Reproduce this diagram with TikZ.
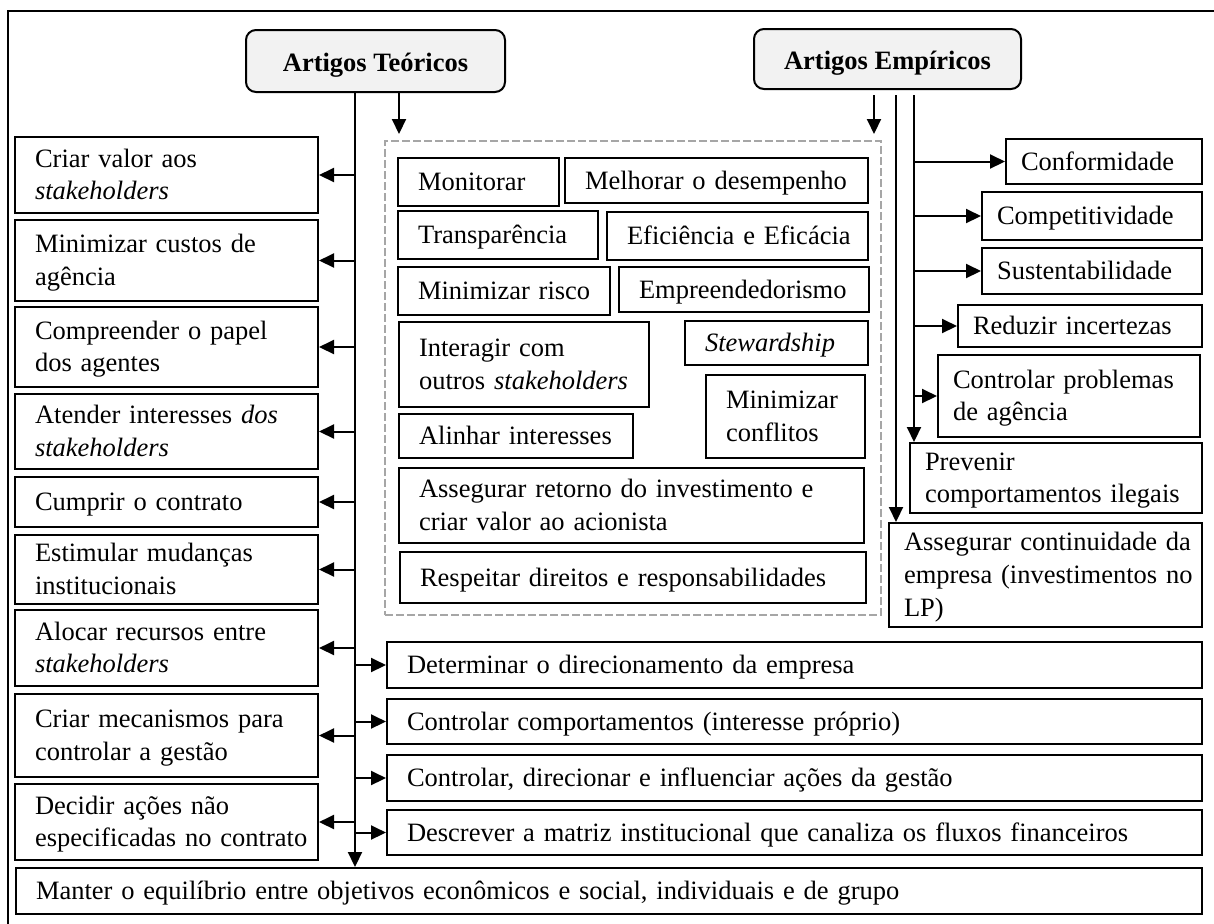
\documentclass[tikz,border=0pt]{standalone}
\usepackage{fontspec}
\setmainfont{Liberation Serif}
\usetikzlibrary{arrows.meta}
\newcommand{\boxfont}{\fontsize{13.25pt}{16.3pt}\selectfont}
\newcommand{\boxstrut}{\rule[-3.9pt]{0pt}{16.3pt}}
\tikzset{
  box/.style={draw, fill=white, inner xsep=0pt, inner ysep=0pt, align=left,
    anchor=north west, execute at begin node={\leftskip=#1\relax\boxstrut},
    execute at end node={\boxstrut}},
  box/.default=10pt,
  rbox/.style={box=7.5pt},
  head/.style={draw, fill=black!5, rounded corners=5pt, inner sep=0pt,
    text height=13pt, text depth=3pt, anchor=north west, font=\boxfont\bfseries},
  group/.style={draw=black!35, dash pattern=on 4pt off 1.5pt, inner sep=0pt,
    anchor=north west},
}
\begin{document}
\begin{tikzpicture}[x=0.5pt, y=-0.5pt, line width=1pt,
    >={Triangle[length=7.5pt,width=7pt]}, every node/.style={font=\boxfont}]
      \useasboundingbox (0,0) rectangle (1214,923);
      \draw (8,930) -- (8,11) -- (1220,11);
      \node[head, minimum width=129.5pt, minimum height=31pt] (teo) at (245,29) {Artigos Teóricos};
      \node[head, minimum width=133.5pt, minimum height=30pt] (emp) at (753,28) {Artigos Empíricos};
      \node[group, minimum width=248pt, minimum height=237pt] (cen) at (384,140) {};
      \node[box, text width=80.5pt, minimum height=24pt] (mon) at (397,157) {Monitorar};
      \node[box, text width=151.5pt, minimum height=22.5pt] (mel) at (564,157) {Melhorar o desempenho};
      \node[box, text width=100pt, minimum height=24pt] (tra) at (397,210) {Transparência};
      \node[box, text width=130.5pt, minimum height=24pt] (efi) at (606,211) {Eficiência e Eficácia};
      \node[box, text width=106pt, minimum height=24pt] (mri) at (397,266) {Minimizar risco};
      \node[box, text width=125pt, minimum height=22.5pt] (epr) at (618,266) {Empreendedorismo};
      \node[box, text width=125pt, minimum height=42.5pt] (iso) at (398,321) {Interagir com\\outros \textit{stakeholders}};
      \node[box, text width=91.5pt, minimum height=22pt] (ste) at (684,320) {\textit{Stewardship}};
      \node[box, text width=79.5pt, minimum height=41.5pt] (mco) at (705,374) {Minimizar\\conflitos};
      \node[box, text width=117pt, minimum height=22pt] (ali) at (398,413) {Alinhar interesses};
      \node[box, text width=232.5pt, minimum height=37.5pt] (asr) at (398,467) {Assegurar retorno do investimento e\\criar valor ao acionista};
      \node[box, text width=233pt, minimum height=25.5pt] (rdr) at (399,551) {Respeitar direitos e responsabilidades};
      \node[box, text width=151.5pt, minimum height=38pt] (crv) at (14,136) {Criar valor aos\\\textit{stakeholders}};
      \node[box, text width=151.5pt, minimum height=40.5pt] (mca) at (14,219) {Minimizar custos de\\agência};
      \node[box, text width=151.5pt, minimum height=40pt] (cpa) at (14,306) {Compreender o papel\\dos agentes};
      \node[box, text width=151.5pt, minimum height=37.5pt] (ait) at (14,393) {Atender interesses \textit{dos}\\\textit{stakeholders}};
      \node[box, text width=151.5pt, minimum height=25pt] (cco) at (14,476) {Cumprir o contrato};
      \node[box, text width=151.5pt, minimum height=34.5pt] (emi) at (14,534) {Estimular mudanças\\institucionais};
      \node[box, text width=151.5pt, minimum height=38pt] (are) at (14,609) {Alocar recursos entre\\\textit{stakeholders}};
      \node[box, text width=151.5pt, minimum height=41.5pt] (cmg) at (14,693) {Criar mecanismos para\\controlar a gestão};
      \node[box, text width=151.5pt, minimum height=38pt] (dan) at (14,783) {Decidir ações não\\especificadas no contrato};
      \node[box, text width=593pt, minimum height=23pt] (meq) at (15,867) {Manter o equilíbrio entre objetivos econômicos e social, individuais e de grupo};
      \node[box, text width=407.5pt, minimum height=23pt] (ddi) at (386,641) {Determinar o direcionamento da empresa};
      \node[box, text width=407.5pt, minimum height=22.5pt] (cci) at (386,698) {Controlar comportamentos (interesse próprio)};
      \node[box, text width=407.5pt, minimum height=23pt] (cdi) at (386,754) {Controlar, direcionar e influenciar ações da gestão};
      \node[box, text width=407.5pt, minimum height=22.5pt] (dmi) at (386,809) {Descrever a matriz institucional que canaliza os fluxos financeiros};
      \node[rbox, text width=98pt, minimum height=22.5pt] (con) at (1005,138) {Conformidade};
      \node[rbox, text width=110pt, minimum height=24pt] (com) at (981,191) {Competitividade};
      \node[rbox, text width=110pt, minimum height=23pt] (sus) at (981,247) {Sustentabilidade};
      \node[rbox, text width=122pt, minimum height=21pt] (rin) at (957,304) {Reduzir incertezas};
      \node[rbox, text width=131pt, minimum height=41pt] (cpr) at (937,354) {Controlar problemas\\de agência};
      \node[rbox, text width=146pt, minimum height=35pt] (pci) at (909,442) {Prevenir\\comportamentos ilegais};
      \node[rbox, text width=156.5pt, minimum height=52pt] (acl) at (888,522) {Assegurar continuidade da\\empresa (investimentos no\\LP)};
      \coordinate (tl) at (355,0);
      \coordinate (ta) at (399,0);
      \coordinate (ea) at (874,0);
      \coordinate (eb) at (896,0);
      \coordinate (ec) at (914,0);
      \draw[->] (teo.south -| tl) -- (meq.north -| tl);
      \draw[->, shorten >=3pt] (teo.south -| ta) -- (cen.north -| ta);
      \foreach \b in {crv,mca,cpa,ait,cco,emi,are,cmg,dan}
        \draw[->] (\b.east -| tl) -- (\b.east);
      \foreach \b in {ddi,cci,cdi,dmi}
        \draw[->] (\b.west -| tl) -- (\b.west);
      \draw[->, shorten <=2.5pt, shorten >=3pt] (emp.south -| ea) -- (cen.north -| ea);
      \draw[->, shorten <=2.5pt] (emp.south -| eb) -- (acl.north -| eb);
      \draw[->, shorten <=2.5pt] (emp.south -| ec) -- (pci.north -| ec);
      \foreach \b in {con,com,sus,rin,cpr}
        \draw[->] (\b.west -| ec) -- (\b.west);
    \end{tikzpicture}
\end{document}
